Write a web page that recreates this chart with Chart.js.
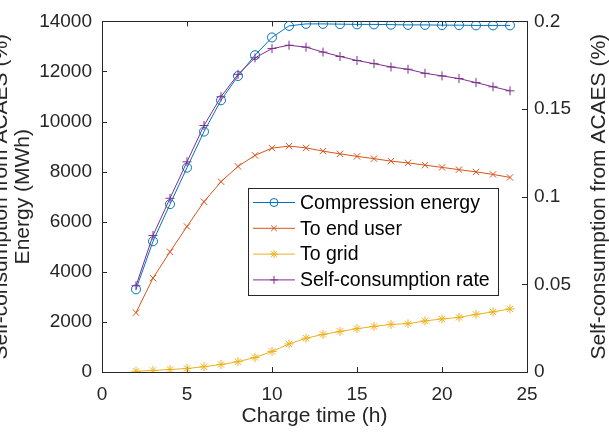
<!DOCTYPE html>
<html>
<head>
<meta charset="utf-8">
<script src="https://cdn.jsdelivr.net/npm/chart.js@4"></script>
<style>
  html, body { margin: 0; padding: 0; background: #fff; }
  canvas { display: block; }
</style>
</head>
<body>
<canvas id="chart" width="609" height="435"></canvas>
<script>
const chargeTime = [2, 3, 4, 5, 6, 7, 8, 9, 10, 11, 12, 13, 14, 15, 16, 17, 18, 19, 20, 21, 22, 23, 24];
const compressionEnergy = [3300, 5220, 6700, 8160, 9600, 10850, 11820, 12650, 13360, 13820, 13900, 13900,
  13890, 13880, 13880, 13870, 13860, 13860, 13850, 13850, 13840, 13840, 13840];
const toEndUser = [2370, 3750, 4800, 5810, 6800, 7600, 8210, 8650, 8940, 9020, 8950, 8820,
  8710, 8610, 8520, 8420, 8350, 8260, 8170, 8080, 7990, 7890, 7770];
const toGrid = [30, 60, 100, 140, 210, 300, 410, 580, 820, 1120, 1350, 1500,
  1620, 1730, 1820, 1900, 1930, 2040, 2120, 2180, 2300, 2400, 2520];
const selfConsumption = [0.0492, 0.0779, 0.0991, 0.1199, 0.1406, 0.157, 0.1698, 0.1792, 0.1845, 0.1864, 0.1853, 0.1825,
  0.1800, 0.1777, 0.1759, 0.174, 0.1727, 0.1704, 0.1689, 0.1674, 0.1651, 0.1627, 0.1604];

const xLabel = 'Charge time (h)';
const yLeftLabel = ['Self-consumption from ACAES (%)', 'Energy (MWh)'];
const yRightLabel = 'Self-consumption from ACAES (%)';

const FONT = "'Liberation Sans', Arial, sans-serif";
const INK = '#262626';

const pts = arr => arr.map((v, i) => ({ x: chargeTime[i], y: v }));

function series(label, values, color, style, axis, order) {
  return {
    label,
    data: pts(values),
    yAxisID: axis,
    borderColor: color,
    backgroundColor: color,
    borderWidth: 1,
    pointStyle: style,
    pointRadius: 4.5,
    pointBorderWidth: 1,
    pointBorderColor: color,
    pointBackgroundColor: 'rgba(0,0,0,0)',
    tension: 0,
    fill: false,
    order
  };
}

function drawMarker(ctx, style, x, y, r) {
  ctx.beginPath();
  if (style === 'circle') {
    ctx.arc(x, y, r, 0, Math.PI * 2);
  } else {
    const d = r * Math.SQRT1_2;
    if (style === 'cross' || style === 'star') {
      ctx.moveTo(x - r, y); ctx.lineTo(x + r, y);
      ctx.moveTo(x, y - r); ctx.lineTo(x, y + r);
    }
    if (style === 'crossRot' || style === 'star') {
      ctx.moveTo(x - d, y - d); ctx.lineTo(x + d, y + d);
      ctx.moveTo(x - d, y + d); ctx.lineTo(x + d, y - d);
    }
  }
  ctx.stroke();
}

// box, inward ticks, rotated titles and the legend box
const matlabFrame = {
  id: 'matlabFrame',
  beforeDatasetsDraw(chart) {
    const { ctx, chartArea: a, scales } = chart;
    ctx.save();
    ctx.strokeStyle = INK;
    ctx.lineWidth = 1;
    ctx.strokeRect(Math.round(a.left) + 0.5, Math.round(a.top) + 0.5,
      Math.round(a.right - a.left), Math.round(a.bottom - a.top));
    const len = 5;
    ctx.beginPath();
    scales.x.ticks.forEach(t => {
      const px = Math.round(scales.x.getPixelForValue(t.value)) + 0.5;
      ctx.moveTo(px, a.bottom); ctx.lineTo(px, a.bottom - len);
      ctx.moveTo(px, a.top); ctx.lineTo(px, a.top + len);
    });
    scales.y.ticks.forEach(t => {
      const py = Math.round(scales.y.getPixelForValue(t.value)) + 0.5;
      ctx.moveTo(a.left, py); ctx.lineTo(a.left + len, py);
    });
    scales.y1.ticks.forEach(t => {
      const py = Math.round(scales.y1.getPixelForValue(t.value)) + 0.5;
      ctx.moveTo(a.right, py); ctx.lineTo(a.right - len, py);
    });
    ctx.stroke();
    ctx.restore();
  },
  afterDraw(chart) {
    const { ctx, chartArea: a } = chart;
    const cy = (a.top + a.bottom) / 2;
    ctx.save();
    ctx.fillStyle = INK;
    ctx.font = '21px ' + FONT;
    ctx.textAlign = 'center';
    ctx.textBaseline = 'alphabetic';
    ctx.fillText(xLabel, (a.left + a.right) / 2, 422);

    ctx.save();
    ctx.translate(7, cy); ctx.rotate(-Math.PI / 2);
    ctx.fillText(yLeftLabel[0], 0, 0);
    ctx.restore();
    ctx.save();
    ctx.translate(29, cy); ctx.rotate(-Math.PI / 2);
    ctx.fillText(yLeftLabel[1], 0, 0);
    ctx.restore();
    ctx.save();
    ctx.translate(605, cy); ctx.rotate(-Math.PI / 2);
    ctx.fillText(yRightLabel, 0, 0);
    ctx.restore();

    // legend
    const bx = 248.5, by = 188.5, bw = 250, bh = 107;
    ctx.fillStyle = '#fff';
    ctx.fillRect(bx, by, bw, bh);
    ctx.strokeStyle = INK;
    ctx.lineWidth = 1;
    ctx.strokeRect(bx, by, bw, bh);
    ctx.font = '19.5px ' + FONT;
    ctx.textAlign = 'left';
    ctx.textBaseline = 'middle';
    chart.data.datasets.forEach((ds, i) => {
      const y = 202.5 + i * 25.8;
      ctx.strokeStyle = ds.borderColor;
      ctx.beginPath();
      ctx.moveTo(253, y); ctx.lineTo(295, y);
      ctx.stroke();
      drawMarker(ctx, ds.pointStyle, 274, y, 4);
      ctx.fillStyle = '#000';
      ctx.fillText(ds.label, 300, y + 1);
    });
    ctx.restore();
  }
};

new Chart(document.getElementById('chart'), {
  type: 'line',
  data: {
    datasets: [
      series('Compression energy', compressionEnergy, '#0072BD', 'circle', 'y', 3),
      series('To end user', toEndUser, '#D95319', 'crossRot', 'y', 2),
      series('To grid', toGrid, '#EDB120', 'star', 'y', 1),
      series('Self-consumption rate', selfConsumption, '#7E2F8E', 'cross', 'y1', 0)
    ]
  },
  options: {
    responsive: false,
    animation: false,
    devicePixelRatio: 1,
    layout: { padding: { top: 17, left: 0, right: 0, bottom: 0 } },
    plugins: {
      legend: { display: false },
      title: { display: false },
      tooltip: { enabled: false }
    },
    scales: {
      x: {
        type: 'linear',
        min: 0,
        max: 25,
        ticks: { stepSize: 5, color: INK, font: { family: FONT, size: 19 }, padding: 11, maxRotation: 0 },
        grid: { display: false, drawTicks: false },
        border: { display: false },
        afterFit: s => { s.height = 63; }
      },
      y: {
        position: 'left',
        min: 0,
        max: 14000,
        ticks: { stepSize: 2000, color: INK, font: { family: FONT, size: 19 }, padding: 10,
          callback: v => String(v) },
        grid: { display: false, drawTicks: false },
        border: { display: false },
        afterFit: s => { s.width = 102; }
      },
      y1: {
        position: 'right',
        min: 0,
        max: 0.2,
        ticks: { stepSize: 0.05, color: INK, font: { family: FONT, size: 19 }, padding: 7,
          callback: v => String(+v.toFixed(2)) },
        grid: { display: false, drawTicks: false },
        border: { display: false },
        afterFit: s => { s.width = 82; }
      }
    }
  },
  plugins: [matlabFrame]
});
</script>
</body>
</html>
